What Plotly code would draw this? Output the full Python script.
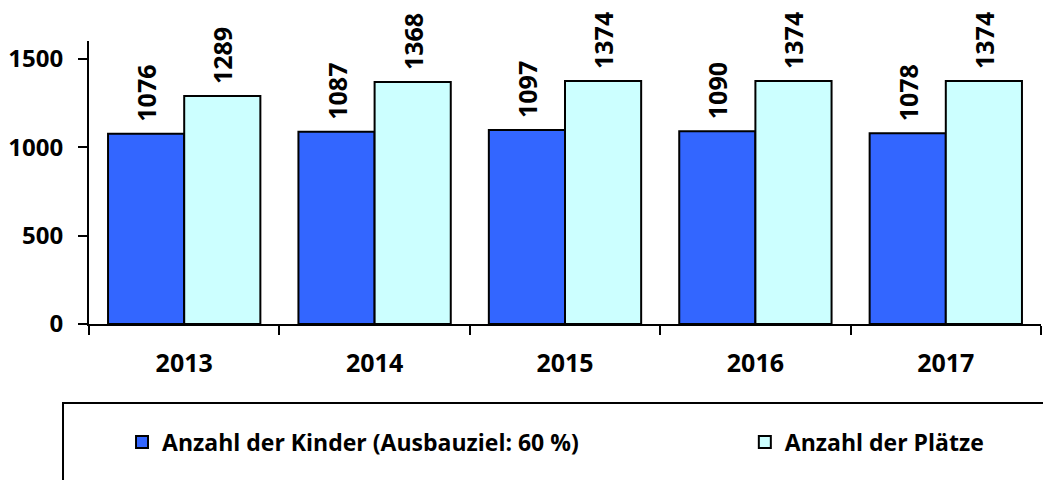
import plotly.graph_objects as go

years = ["2013", "2014", "2015", "2016", "2017"]
kinder = [1076, 1087, 1097, 1090, 1078]
plaetze = [1289, 1368, 1374, 1374, 1374]
name_kinder = "Anzahl der Kinder (Ausbauziel: 60 %)"
name_plaetze = "Anzahl der Plätze"

FONT = "Open Sans"
LABEL = "\u00a0\u200a%{y}"

fig = go.Figure()
fig.add_trace(go.Bar(
    x=years, y=kinder, name=name_kinder,
    marker=dict(color="#3366FF", line=dict(color="black", width=2)),
    text=kinder, texttemplate=LABEL, textposition="outside", textangle=-90,
    textfont=dict(family=FONT, size=25, color="black", weight="bold"),
    cliponaxis=False, legend="legend", showlegend=True,
))
fig.add_trace(go.Bar(
    x=years, y=plaetze, name=name_plaetze,
    marker=dict(color="#CCFFFF", line=dict(color="black", width=2)),
    text=plaetze, texttemplate=LABEL, textposition="outside", textangle=-90,
    textfont=dict(family=FONT, size=25, color="black", weight="bold"),
    cliponaxis=False, legend="legend2", showlegend=True,
))

legend_font = dict(family=FONT, size=23, weight="bold", color="black")
fig.update_layout(
    width=1051, height=480,
    margin=dict(l=81, r=18, t=33, b=164, autoexpand=False),
    paper_bgcolor="white", plot_bgcolor="white",
    barmode="group", bargap=0.2, bargroupgap=0,
    font=dict(family=FONT, color="black"),
    showlegend=True,
    legend=dict(visible=True, x=0.0347, y=-0.417, xanchor="left", yanchor="middle",
                orientation="h", bgcolor="rgba(0,0,0,0)", font=legend_font),
    legend2=dict(visible=True, x=0.6889, y=-0.417, xanchor="left", yanchor="middle",
                 orientation="h", bgcolor="rgba(0,0,0,0)", font=legend_font),
    shapes=[dict(type="rect", xref="paper", yref="paper",
                 x0=-0.0273, x1=1.03, y0=-0.279, y1=-0.62,
                 line=dict(color="black", width=2), fillcolor="rgba(0,0,0,0)",
                 layer="below")],
)
fig.update_xaxes(
    showline=True, linecolor="black", linewidth=2,
    ticks="outside", tickson="boundaries", ticklen=9, tickwidth=2, tickcolor="black",
    tickfont=dict(family=FONT, size=25, weight="bold", color="black"),
    ticklabelstandoff=16, showgrid=False, zeroline=False,
)
fig.update_yaxes(
    range=[0, 1600], tickvals=[0, 500, 1000, 1500],
    showline=True, linecolor="black", linewidth=2,
    ticks="outside", ticklen=9, tickwidth=2, tickcolor="black",
    tickfont=dict(family=FONT, size=24, weight="bold", color="black"),
    ticklabelstandoff=10, showgrid=False, zeroline=False,
)

fig.write_html("out.html")
